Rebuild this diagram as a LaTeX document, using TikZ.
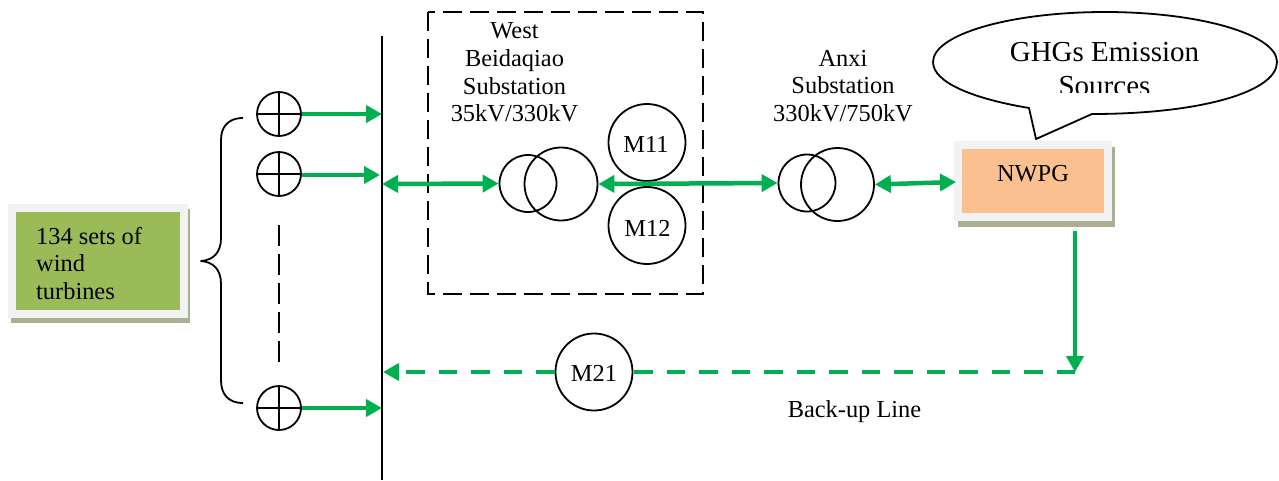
\documentclass[tikz,border=0pt]{standalone}
\usepackage{fontspec}
\setmainfont{Liberation Serif}
\usetikzlibrary{arrows.meta}
\definecolor{flow}{HTML}{00B050}
\definecolor{boxgreen}{HTML}{9BBB59}
\definecolor{boxorange}{HTML}{FAC090}
\definecolor{boxpale}{HTML}{F2F2F2}
\definecolor{boxshadow}{HTML}{A8B08F}
\tikzset{
  every node/.style={font=\fontsize{24.4}{27.6}\selectfont},
  blk/.style={draw=black,line width=1.8pt,line join=round},
  flowline/.style={draw=flow,line width=4.5pt,-{Triangle[length=16pt,width=17pt]}},
  flowboth/.style={draw=flow,line width=4.5pt,{Triangle[length=16pt,width=17pt]}-{Triangle[length=16pt,width=17pt]}},
  flowdash/.style={draw=flow,line width=4.5pt,dash pattern=on 18.5pt off 14pt},
  ring/.style={circle,draw=black,line width=1.8pt,fill=none,inner sep=0pt},
  lab/.style={align=center,inner sep=0pt,text=black},
}
\begin{document}
\begin{tikzpicture}[x=1pt,y=-1pt]
\useasboundingbox (0,0) rectangle (1279,480);
% bus
\coordinate (busT) at (382,36); \coordinate (busB) at (382,480);
\draw[blk] (busT) -- (busB);
% green box
\fill[boxshadow] (11,209) rectangle (190,323);
\fill[boxpale] (8,204) rectangle (188,318);
\node[fill=boxgreen,minimum width=164pt,minimum height=98pt,inner sep=0pt] (wind) at (98,261) {};
\node[lab,align=left,anchor=west] (windt) at (36,263.5) {134 sets of\\wind\\turbines};
% brace
\draw[blk] (243,118) .. controls (228,118) and (221,127) .. (221,140) -- (221,238)
  .. controls (221,253) and (213,260) .. (201,261)
  .. controls (213,262) and (221,269) .. (221,284) -- (221,380)
  .. controls (221,394) and (228,403) .. (243,403);
% generators
\foreach \n/\y in {g1/114,g2/174,g3/408}{
  \node[ring,minimum size=44pt] (\n) at (279,\y) {};
  \draw[line width=1.5pt] (\n.north) -- (\n.south) (\n.west) -- (\n.east);
}
\draw[line width=1.8pt,dash pattern=on 20.5pt off 8.5pt] (279,225) -- (279,362);
\coordinate (b1) at (382,114); \coordinate (b2) at (380,175); \coordinate (b3) at (382,408);
\draw[flowline] (g1.east) -- (b1);
\draw[flowline] (g2.east |- b2) -- (b2);
\draw[flowline] (g3.east) -- (b3);
% dashed substation
\draw[line width=1.8pt,dash pattern=on 19pt off 8pt] (428,12) rectangle (703,294);
\node[lab] (west) at (514.5,72.5) {West\\Beidaqiao\\Substation\\35kV/330kV};
% transformer 1
\node[ring,minimum size=57pt] (t1a) at (528,183.5) {};
\node[ring,minimum size=73pt] (t1b) at (561,184) {};
\node[ring,minimum size=77pt] (m11) at (647,142.5) {};
\node[ring,minimum size=77pt] (m12) at (647,225.5) {};
\node[lab] at (646,144) {M11};
\node[lab] at (647.5,228) {M12};
% transformer 2
\node[ring,minimum size=57pt] (t2a) at (807,183) {};
\node[ring,minimum size=73pt] (t2b) at (837.5,184.5) {};
\node[lab] (anxi) at (843,86) {Anxi\\Substation\\330kV/750kV};
% NWPG
\fill[boxshadow] (958,147) rectangle (1115,227);
\fill[boxpale] (954,141) rectangle (1112,221);
\node[fill=boxorange,minimum width=142pt,minimum height=64pt,inner sep=0pt] (nwpg) at (1033,181) {};
\node[lab] at (1033,173.5) {NWPG};
% bubble
\draw[blk,fill=white] (1029,108)
  .. controls (975,99) and (933,83) .. (933,62)
  .. controls (933,34.5) and (1010,12) .. (1105,12)
  .. controls (1200,12) and (1277,34.5) .. (1277,62)
  .. controls (1277,92) and (1200,114) .. (1092,114)
  -- (1036,139) -- cycle;
\begin{scope}
\clip (960,30) rectangle (1250,92);
\node[lab,font=\fontsize{29}{34}\selectfont] (ghg) at (1104.5,69) {GHGs Emission\\Sources};
\end{scope}
% flows
\draw[flowboth] (382,184) -- (t1a.west);
\draw[flowboth] (t1b.east) -- (t2a.west);
\draw[flowboth] (t2b.east) -- (956,182);
\coordinate (corner) at (1075,372);
\draw[flowline] (1075,231) -- (corner);
\node[ring,minimum size=77pt] (m21) at (594,372) {};
\node[lab] at (594,373.5) {M21};
\draw[flowdash] (corner) -- (m21.east);
\draw[flowdash] (m21.west) -- (403,372);
\coordinate (b4) at (383,372);
\coordinate (b4s) at (399,372);
\draw[flowline] (b4s) -- (b4);
\node[lab] (backup) at (854.5,411.5) {Back-up Line};
\end{tikzpicture}
\end{document}
